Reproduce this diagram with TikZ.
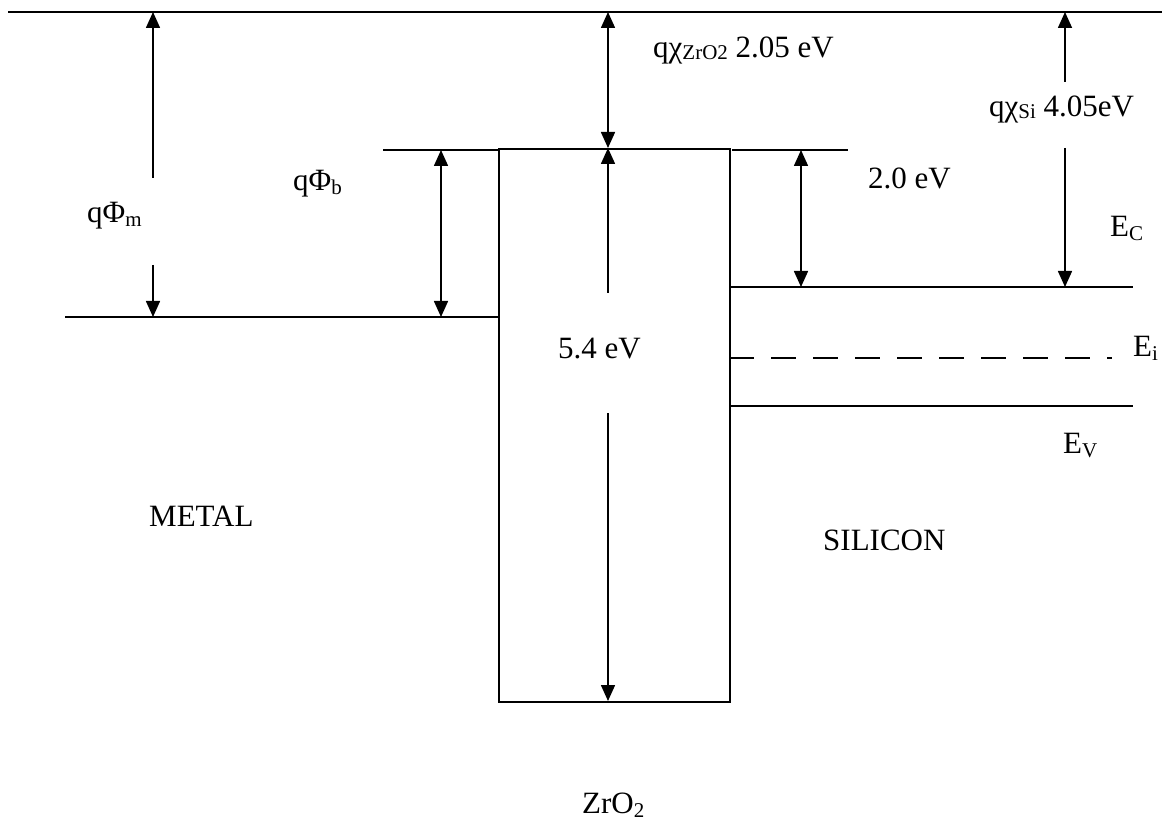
\documentclass[tikz,border=0pt]{standalone}
\usepackage{fontspec}
\setmainfont{Liberation Serif}
\usetikzlibrary{arrows.meta}
\newcommand\mysub[1]{\raisebox{-4pt}{\fontsize{21}{21}\selectfont #1}}
\newcommand\mysmall[1]{\raisebox{-2pt}{\fontsize{21}{21}\selectfont #1}}
\begin{document}
\begin{tikzpicture}[x=1pt,y=-1pt,
  lvl/.style={line width=1.6pt},
  dimone/.style={line width=1.6pt,-{Triangle[length=16pt,width=14pt]}},
  dimtwo/.style={line width=1.6pt,{Triangle[length=16pt,width=14pt]}-{Triangle[length=16pt,width=14pt]}},
  lbl/.style={anchor=base west,inner sep=0pt,font=\fontsize{31}{31}\selectfont},
  dashlvl/.style={line width=1.6pt,dash pattern=on 25pt off 17pt}
]
\useasboundingbox (0,0) rectangle (1171,821);

% oxide box
\node (oxide) [draw,lvl,inner sep=0pt,minimum width=231pt,minimum height=553pt,anchor=north west] at (498,148) {};

% vacuum level
\coordinate (vacL) at (8,12);
\coordinate (vacR) at (1162,12);
\draw[lvl] (vacL) -- (vacR);

% metal
\coordinate (mL) at (65,317);
\coordinate (mR) at (498,317);
\draw[lvl] (mL) -- (mR);
\coordinate (bL) at (383,150);
\coordinate (bR) at (498,150);
\draw[lvl] (bL) -- (bR);

% silicon side
\coordinate (sbL) at (732,150);
\coordinate (sbR) at (848,150);
\draw[lvl] (sbL) -- (sbR);
\coordinate (ecL) at (729,287);
\coordinate (ecR) at (1133,287);
\draw[lvl] (ecL) -- (ecR);
\coordinate (eiL) at (729,358);
\coordinate (eiR) at (1112,358);
\draw[dashlvl] (eiL) -- (eiR);
\coordinate (evL) at (729,406);
\coordinate (evR) at (1133,406);
\draw[lvl] (evL) -- (evR);

% q Phi_m arrows
\coordinate (pm0) at (153,12);
\coordinate (pm1) at (153,178);
\coordinate (pm2) at (153,265);
\coordinate (pm3) at (153,317);
\draw[dimone] (pm1) -- (pm0);
\draw[dimone] (pm2) -- (pm3);

% q Phi_b arrow
\coordinate (pb0) at (441,150);
\coordinate (pb1) at (441,317);
\draw[dimtwo] (pb0) -- (pb1);

% chi ZrO2 arrow
\coordinate (cz0) at (608,12);
\coordinate (cz1) at (608,148);
\draw[dimtwo] (cz0) -- (cz1);

% 5.4 eV arrows
\coordinate (gp0) at (608,293);
\coordinate (gp1) at (608,413);
\coordinate (gp2) at (608,701);
\draw[dimone] (gp0) -- (cz1);
\draw[dimone] (gp1) -- (gp2);

% 2.0 eV arrow
\coordinate (off0) at (801,150);
\coordinate (off1) at (801,287);
\draw[dimtwo] (off0) -- (off1);

% chi Si arrows
\coordinate (cs0) at (1065,12);
\coordinate (cs1) at (1065,82);
\coordinate (cs2) at (1065,148);
\coordinate (cs3) at (1065,287);
\draw[dimone] (cs1) -- (cs0);
\draw[dimone] (cs2) -- (cs3);

% labels
\node[lbl] (lphim) at (87,223) {qΦ\mysub{m}};
\node[lbl] (lphib) at (293,191) {qΦ\mysub{b}};
\node[lbl] (lchiz) at (653,58) {qχ\mysmall{ZrO2} 2.05 eV};
\node[lbl] (lchis) at (989,117) {qχ\mysmall{Si} 4.05eV};
\node[lbl] (loff) at (868,189) {2.0 eV};
\node[lbl] (lgap) at (558,358) {5.4 eV};
\node[lbl] (lec) at (1110,237) {E\mysub{C}};
\node[lbl] (lei) at (1133,356) {E\mysub{i}};
\node[lbl] (lev) at (1063,453) {E\mysub{V}};
\node[lbl] (lmetal) at (149,526) {METAL};
\node[lbl] (lsil) at (823,550) {SILICON};
\node[lbl] (lzro) at (582,813) {ZrO\mysub{2}};
\end{tikzpicture}
\end{document}
